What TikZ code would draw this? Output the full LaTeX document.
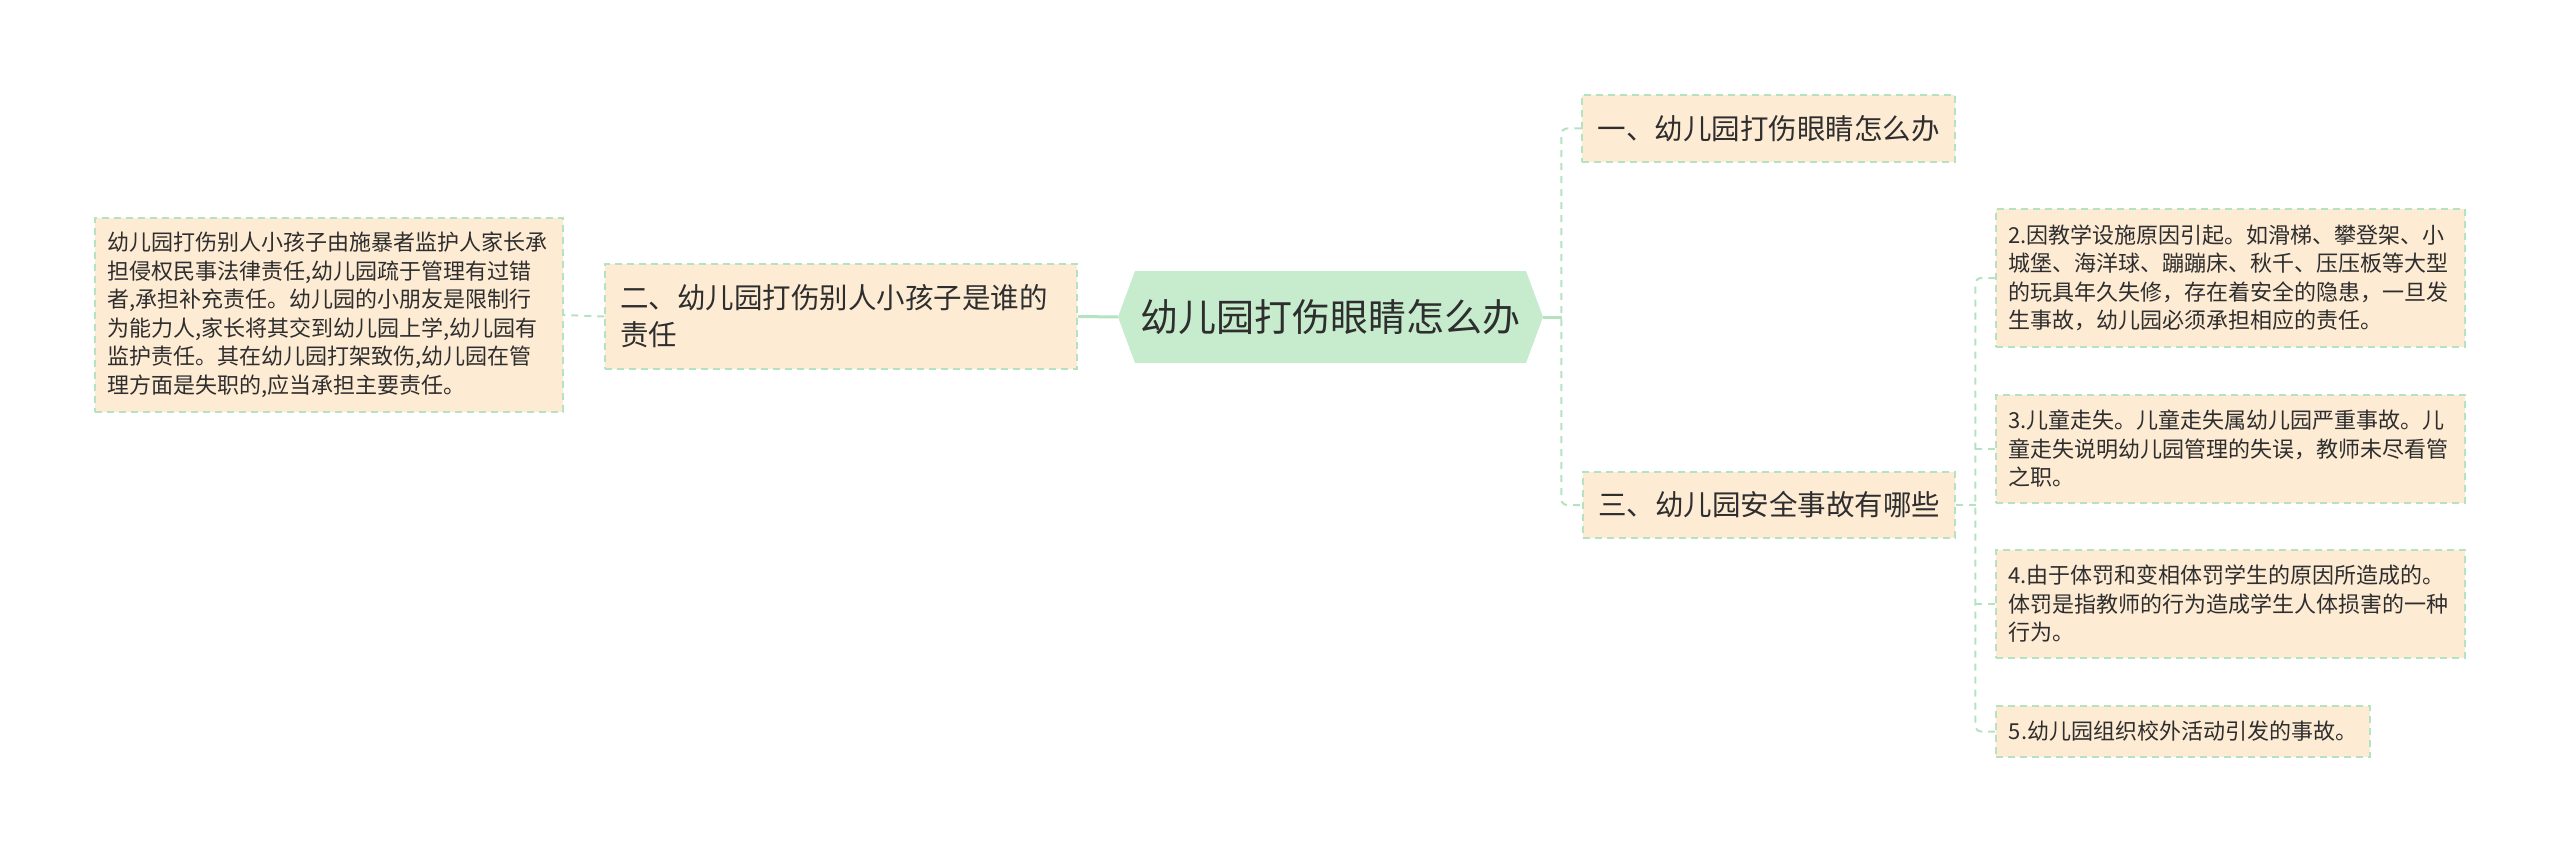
\documentclass[tikz,border=0pt]{standalone}
\usepackage{fontspec}
\setmainfont{Noto Sans CJK SC}
\definecolor{peach}{HTML}{FDEBD4}
\definecolor{mint}{HTML}{B5E2C1}
\definecolor{rootgreen}{HTML}{C6ECCD}
\definecolor{ink}{HTML}{2E2E2E}
\begin{document}
\begin{tikzpicture}[x=1pt, y=-1pt,
	root/.style={minimum width=425pt, minimum height=92pt, inner sep=0pt, text=ink, font=\fontsize{38}{46}\selectfont},
	topic/.style={fill=peach, draw=mint, line width=1.5pt, dash pattern=on 7pt off 5pt, text=ink, inner xsep=15pt, inner ysep=0pt, align=left, font=\fontsize{28.5}{37}\selectfont},
	detail/.style={fill=peach, draw=mint, line width=1.5pt, dash pattern=on 7pt off 5pt, text=ink, inner xsep=12pt, inner ysep=0pt, align=left, font=\fontsize{22}{28.5}\selectfont},
	link/.style={draw=mint, line width=2pt, dash pattern=on 7pt off 6pt},
	trunk/.style={draw=mint, line width=3pt}]
	\useasboundingbox (0,0) rectangle (2560,853);
	% centre
	\fill[rootgreen] (1118,317) -- (1135,271) -- (1526,271) -- (1543,317) -- (1526,363) -- (1135,363) -- cycle;
	\node[root] (root) at (1330.5,317) {幼儿园打伤眼睛怎么办};
	% left side
	\node[topic, text width=442pt, minimum height=105pt] (q2) at (841,316.5) {二、幼儿园打伤别人小孩子是谁的\\责任};
	\node[detail, text width=444pt, minimum height=194pt] (a2) at (329,315) {幼儿园打伤别人小孩子由施暴者监护人家长承\\担侵权民事法律责任,幼儿园疏于管理有过错\\者,承担补充责任。幼儿园的小朋友是限制行\\为能力人,家长将其交到幼儿园上学,幼儿园有\\监护责任。其在幼儿园打架致伤,幼儿园在管\\理方面是失职的,应当承担主要责任。};
	% right side
	\node[topic, minimum width=373pt, minimum height=67pt] (q1) at (1768.5,128.5) {一、幼儿园打伤眼睛怎么办};
	\node[topic, minimum width=372pt, minimum height=66pt] (q3) at (1769,505) {三、幼儿园安全事故有哪些};
	\node[detail, text width=445pt, minimum height=138pt] (c2) at (2230.5,278) {2.因教学设施原因引起。如滑梯、攀登架、小\\城堡、海洋球、蹦蹦床、秋千、压压板等大型\\的玩具年久失修，存在着安全的隐患，一旦发\\生事故，幼儿园必须承担相应的责任。};
	\node[detail, text width=445pt, minimum height=108pt] (c3) at (2230.5,449) {3.儿童走失。儿童走失属幼儿园严重事故。儿\\童走失说明幼儿园管理的失误，教师未尽看管\\之职。};
	\node[detail, text width=445pt, minimum height=108pt] (c4) at (2230.5,604) {4.由于体罚和变相体罚学生的原因所造成的。\\体罚是指教师的行为造成学生人体损害的一种\\行为。};
	\node[detail, minimum width=374pt, minimum height=51pt] (c5) at (2183,731.5) {5.幼儿园组织校外活动引发的事故。};
	% connectors
	\draw[trunk] (root.west) -- (q2.east);
	\draw[link] (q2.west) -- (a2.east);
	\draw[trunk] (root.east) -- ++(19,0);
	\draw[link, rounded corners=6pt] (q1.west) -- ++(-20,0) |- (q3.west);
	\draw[link] (q3.east) -- ++(21,0);
	\draw[link, rounded corners=6pt] (c2.west) -- ++(-20,0) |- (c5.west);
	\draw[link] (c3.west) -- ++(-20,0);
	\draw[link] (c4.west) -- ++(-20,0);
\end{tikzpicture}
\end{document}
